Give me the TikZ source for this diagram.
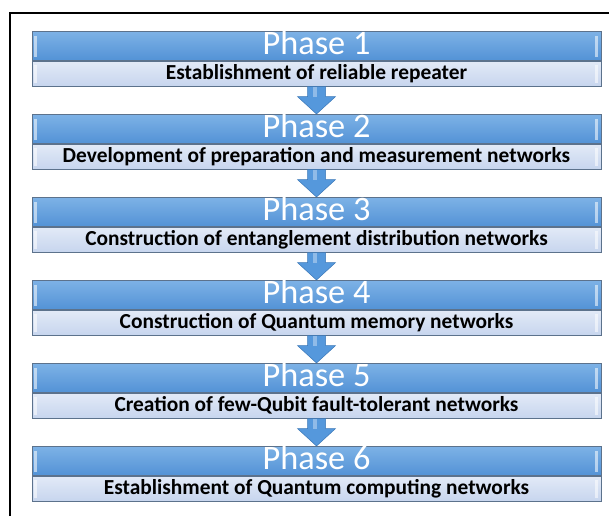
\documentclass[tikz,border=0pt]{standalone}
\usepackage{fontspec}
\setmainfont{Carlito}
\usetikzlibrary{calc}
\definecolor{bandtop}{HTML}{7DB2E6}
\definecolor{bandbot}{HTML}{5392D6}
\definecolor{lighttop}{HTML}{E2EAF7}
\definecolor{lightbot}{HTML}{C7D5EE}
\definecolor{edgec}{HTML}{5C728C}
\definecolor{arrowfill}{HTML}{5598DC}
\definecolor{arrowedge}{HTML}{3B78B8}
\tikzset{
  phasebox/.style={draw=edgec, line width=0.8pt, minimum width=569pt, minimum height=29pt,
    inner sep=0pt, top color=bandtop, bottom color=bandbot, text=white,
    font=\fontsize{34.3}{34}\selectfont, text height=22pt, text depth=5pt, anchor=north},
  descbox/.style={draw=edgec, line width=0.8pt, minimum width=569pt, minimum height=25pt,
    inner sep=0pt, top color=lighttop, bottom color=lightbot, text=black,
    font=\bfseries\fontsize{21.4}{21}\selectfont, text height=15pt, text depth=4pt, anchor=north},
  downarrow/.style={fill=arrowfill, draw=arrowedge, line width=0.5pt, line join=miter},
  shine/.style={fill=white, opacity=0.55},
  frameline/.style={line width=1.6pt, draw=black}
}
\begin{document}
\begin{tikzpicture}[x=1pt,y=-1pt]
\useasboundingbox (0,0) rectangle (609,516);
\fill[white] (0,0) rectangle (609,516);
\coordinate (fa) at (10,516);
\coordinate (fb) at (10,13);
\coordinate (fc) at (609,13);
\draw[frameline] (fa) -- (fb) -- (fc);
\foreach \i/\t in {1/Establishment of reliable repeater,
                   2/Development of preparation and measurement networks,
                   3/Construction of entanglement distribution networks,
                   4/Construction of Quantum memory networks,
                   5/Creation of few-Qubit fault-tolerant networks,
                   6/Establishment of Quantum computing networks}{
  \node[phasebox] (p\i) at (316.5,{31+83*(\i-1)}) {Phase \i};
  \node[descbox] (d\i) at (p\i.south) {\t};
  % bevel highlights
  \fill[shine] ([xshift=2pt,yshift=-5pt]p\i.north west) rectangle ([xshift=5pt,yshift=4pt]p\i.south west);
  \fill[shine] ([xshift=-6pt,yshift=-5pt]p\i.north east) rectangle ([xshift=-3pt,yshift=4pt]p\i.south east);
  \fill[shine] ([xshift=2pt,yshift=-4pt]d\i.north west) rectangle ([xshift=5pt,yshift=4pt]d\i.south west);
  \fill[shine] ([xshift=-6pt,yshift=-4pt]d\i.north east) rectangle ([xshift=-3pt,yshift=4pt]d\i.south east);
}
\foreach \i [evaluate=\i as \j using int(\i+1)] in {1,...,5}{
  \draw[downarrow] ([xshift=-9pt]d\i.south) -- ([xshift=-9pt,yshift=-10pt]d\i.south)
     -- ([xshift=-19pt,yshift=-10pt]d\i.south) -- (p\j.north)
     -- ([xshift=19pt,yshift=-10pt]d\i.south) -- ([xshift=9pt,yshift=-10pt]d\i.south)
     -- ([xshift=9pt]d\i.south) -- cycle;
  \fill[white, opacity=0.35] ([xshift=-4pt]d\i.south) rectangle ([xshift=0pt,yshift=-10pt]d\i.south);
}
\end{tikzpicture}
\end{document}
